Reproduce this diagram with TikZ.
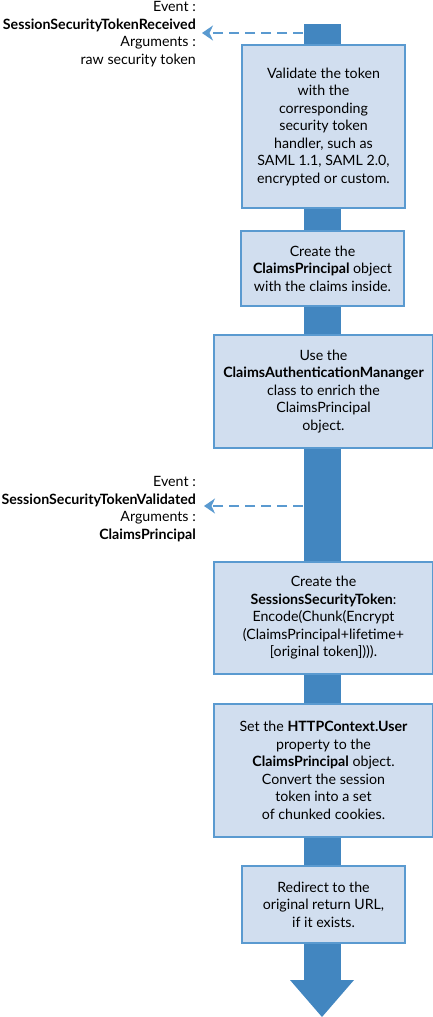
\documentclass[tikz,border=0pt]{standalone}
\usepackage{fontspec}
\setmainfont{Lato}
\usetikzlibrary{arrows.meta}
\definecolor{barblue}{HTML}{4286C0}
\definecolor{boxline}{HTML}{5A9AD0}
\definecolor{boxfill}{HTML}{D1DEEF}
\begin{document}
\begin{tikzpicture}[x=1pt, y=-1pt,
		stepbox/.style={draw=boxline, fill=boxfill, line width=1.6pt, align=center, inner sep=0pt, font=\fontsize{14.2}{17.5}\selectfont},
		eventtext/.style={anchor=east, align=right, inner sep=0pt, font=\fontsize{14.2}{17.5}\selectfont},
		eventarrow/.style={draw=boxline, line width=1.8pt, dash pattern=on 10pt off 6pt, -{Stealth[length=11pt, width=15pt, inset=3.5pt]}}]
		\useasboundingbox (0,0) rectangle (433,1017);
		
		% main flow
		\coordinate (top) at (322,24);
		\coordinate (bottom) at (322,980);
		\fill[barblue] ([xshift=-18.5pt]top) rectangle ([xshift=18.5pt]bottom);
		\fill[barblue] ([xshift=-32pt]bottom) -- ([xshift=32pt]bottom) -- (322,1017) -- cycle;
		
		\node[stepbox, minimum width=163pt, minimum height=163pt] (validate) at (323.5,126.5) {Validate the token\\with the\\corresponding\\security token\\handler, such as\\SAML 1.1, SAML 2.0,\\encrypted or custom.};
		\node[stepbox, minimum width=163pt, minimum height=75pt] (principal) at (322.5,268.5) {Create the\\\textbf{ClaimsPrincipal} object\\with the claims inside.};
		\node[stepbox, minimum width=219pt, minimum height=113pt] (enrich) at (323.5,391.5) {Use the\\\textbf{ClaimsAuthenticationMananger}\\class to enrich the\\ClaimsPrincipal\\object.};
		\node[stepbox, minimum width=219pt, minimum height=112pt] (session) at (323.5,618) {Create the\\\textbf{SessionsSecurityToken}:\\Encode(Chunk(Encrypt\\(ClaimsPrincipal+lifetime+\\{[original token]))).}};
		\node[stepbox, minimum width=219pt, minimum height=133pt] (user) at (323.5,770.5) {Set the \textbf{HTTPContext.User}\\property to the\\\textbf{ClaimsPrincipal} object.\\Convert the session\\token into a set\\of chunked cookies.};
		\node[stepbox, minimum width=163pt, minimum height=77pt] (redirect) at (323.5,904.5) {Redirect to the\\original return URL,\\if it exists.};
		
		% events
		\node[eventtext] (received) at (196,34) {Event :\\\textbf{SessionSecurityTokenReceived}\\Arguments :\\raw security token};
		\node[eventtext] (validated) at (196,509) {Event :\\\textbf{SessionSecurityTokenValidated}\\Arguments :\\\textbf{ClaimsPrincipal}};
		
		\coordinate (fire1) at (303,33);
		\coordinate (fire2) at (303,506);
		\draw[eventarrow] (fire1) -- ([xshift=6pt]fire1 -| received.east);
		\draw[eventarrow] (fire2) -- ([xshift=8pt]fire2 -| validated.east);
		
	\end{tikzpicture}
\end{document}
